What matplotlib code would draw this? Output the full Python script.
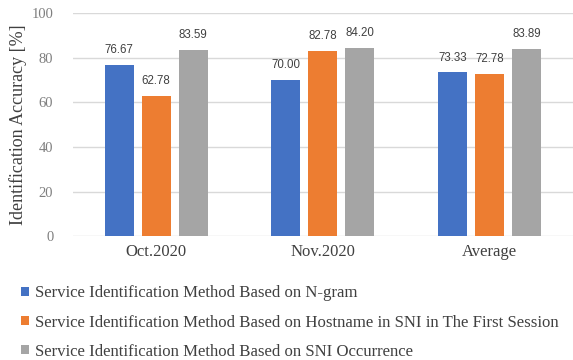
import matplotlib
matplotlib.use("Agg")
import matplotlib.pyplot as plt
import numpy as np

categories = ["Oct.2020", "Nov.2020", "Average"]
series_names = [
    "Service Identification Method Based on N-gram",
    "Service Identification Method Based on Hostname in SNI in The First Session",
    "Service Identification Method Based on SNI Occurrence",
]
ngram = [76.67, 70.00, 73.33]
hostname_first = [62.78, 82.78, 72.78]
sni_occurrence = [83.59, 84.20, 83.89]
colors = ["#4472C4", "#ED7D31", "#A5A5A5"]
yticks = [0, 20, 40, 60, 80, 100]

fig = plt.figure(figsize=(5.73, 3.6), dpi=100)
ax = fig.add_axes([0.127, 0.344, 0.873, 0.62])

x = np.arange(len(categories))
width = 0.174
step = 0.222
serif = "Liberation Serif"
for i, (vals, col, name) in enumerate(zip([ngram, hostname_first, sni_occurrence], colors, series_names)):
    pos = x + (i - 1) * step
    bars = ax.bar(pos, vals, width=width, color=col, label=name, zorder=3)
    for b, v in zip(bars, vals):
        ax.text(b.get_x() + b.get_width() / 2, v + 4.0, f"{v:.2f}",
                ha="center", va="bottom", fontsize=8.3, color="#404040",
                family="Liberation Sans")

ax.set_xlim(-0.5, 2.5)
ax.set_ylim(0, 100)
ax.set_yticks(yticks)
ax.set_yticklabels([str(t) for t in yticks], family=serif, fontsize=10.5, color="#7F7F7F")
ax.set_xticks(x)
ax.set_xticklabels(categories, family=serif, fontsize=12, color="#404040")
ax.tick_params(axis="y", length=0, pad=14)
ax.tick_params(axis="x", length=0, pad=6)
ax.grid(axis="y", color="#D9D9D9", linewidth=1, zorder=0)
for s in ax.spines.values():
    s.set_visible(False)
ax.set_ylabel("Identification Accuracy [%]", family=serif, fontsize=13, color="#404040", labelpad=3)

handles, labels = ax.get_legend_handles_labels()
leg = fig.legend(handles, labels, loc="upper left", bbox_to_anchor=(0.037, 0.207),
                 frameon=False, prop={"family": serif, "size": 12.1},
                 handlelength=0.45, handleheight=0.45, handletextpad=0.35,
                 labelspacing=0.78, borderaxespad=0, borderpad=0)
for t in leg.get_texts():
    t.set_color("#404040")

fig.savefig("out.png", dpi=100)
